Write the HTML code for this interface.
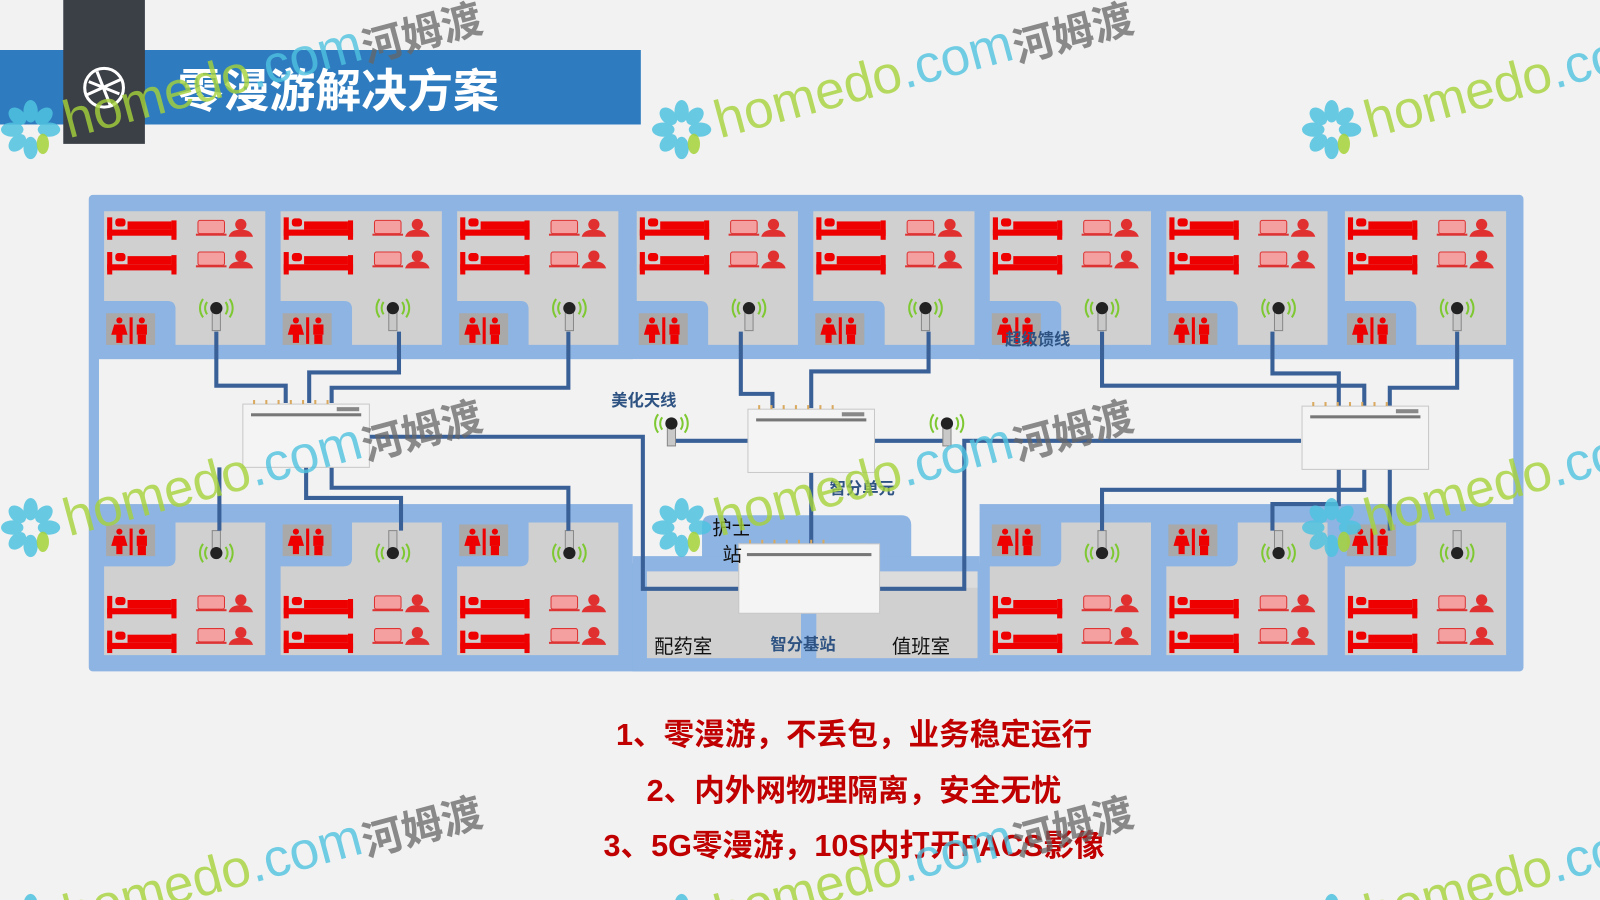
<!DOCTYPE html>
<html><head><meta charset="utf-8"><style>
html,body{margin:0;padding:0;background:#f2f2f2;overflow:hidden;width:1600px;height:900px}
svg{display:block;overflow:hidden}
text{font-family:"Liberation Sans","Noto Sans CJK SC",sans-serif}
</style></head><body>
<svg width="1600" height="900" viewBox="0 0 1568 882" xmlns="http://www.w3.org/2000/svg">
<defs>
<clipPath id="cp"><rect width="1568" height="882"/></clipPath>
<g id="bed"><rect x="0" y="0" width="5" height="22" fill="#e00"/><rect x="63" y="3" width="5" height="19" fill="#e00"/><rect x="0" y="12" width="68" height="6" fill="#e00"/><rect x="8" y="1" width="10" height="8" rx="3" fill="#e00"/><rect x="20" y="4" width="43" height="8" fill="#e00"/></g>
<g id="lap"><rect x="0" y="0" width="26" height="13" rx="2" fill="#f4a0a0" stroke="#d33" stroke-width="1"/><rect x="-2" y="13" width="30" height="2" fill="#d33"/><circle cx="42" cy="4" r="5.5" fill="#e03030"/><path d="M30,16 Q32,9 42,9 Q52,9 54,16 Z" fill="#e03030"/></g>
<g id="wc"><rect x="0" y="0" width="48" height="31" fill="#a9a9a9"/><circle cx="13" cy="7" r="3" fill="#e00"/><path d="M8,11 H18 L21,21 H16 V29 H10 V21 H5 Z" fill="#e00"/><rect x="23" y="4" width="3" height="26" fill="#e00"/><circle cx="35" cy="7" r="3" fill="#e00"/><rect x="30" y="11" width="10" height="10" fill="#e00"/><rect x="31" y="21" width="8" height="9" fill="#e00"/></g>
<g id="ant"><path d="M-9,-6 A10,10 0 0 0 -9,6 M-13,-9 A15,15 0 0 0 -13,9 M9,-6 A10,10 0 0 1 9,6 M13,-9 A15,15 0 0 1 13,9" stroke="#7ec832" stroke-width="2" fill="none"/><rect x="-4" y="0" width="8" height="22" fill="#c8c8c8" stroke="#888" stroke-width="1"/><circle cx="0" cy="0" r="6" fill="#222"/></g>
<g id="antd"><path d="M-9,-6 A10,10 0 0 0 -9,6 M-13,-9 A15,15 0 0 0 -13,9 M9,-6 A10,10 0 0 1 9,6 M13,-9 A15,15 0 0 1 13,9" stroke="#7ec832" stroke-width="2" fill="none"/><rect x="-4" y="-22" width="8" height="22" fill="#c8c8c8" stroke="#888" stroke-width="1"/><circle cx="0" cy="0" r="6" fill="#222"/></g>
<g id="topRoom"><path d="M0,0 H158 V131 H70 V96 Q70,88 62,88 H0 Z" fill="#d0d0d0"/><use href="#wc" x="2" y="100"/><use href="#bed" x="3" y="6"/><use href="#bed" x="3" y="40"/><use href="#lap" x="92" y="9"/><use href="#lap" x="92" y="40"/><use href="#ant" x="110" y="95"/></g>
<g id="botRoom"><path d="M0,130 H158 V0 H70 V35 Q70,43 62,43 H0 Z" fill="#d0d0d0"/><use href="#wc" x="2" y="2"/><use href="#bed" x="3" y="72"/><use href="#bed" x="3" y="106"/><use href="#lap" x="92" y="72"/><use href="#lap" x="92" y="104"/><use href="#antd" x="110" y="30"/></g>
<g id="router"><rect x="0" y="0" width="124" height="62" fill="#f4f4f4" stroke="#c8c8c8"/><rect x="8" y="9" width="108" height="3" fill="#777"/><rect x="92" y="3" width="22" height="4" fill="#888"/><g fill="#d9a960"><rect x="10" y="-4" width="2" height="4"/><rect x="22" y="-4" width="2" height="4"/><rect x="34" y="-4" width="2" height="4"/><rect x="46" y="-4" width="2" height="4"/><rect x="58" y="-4" width="2" height="4"/><rect x="70" y="-4" width="2" height="4"/><rect x="82" y="-4" width="2" height="4"/></g></g>
<g id="wm"><g fill="#4fc3e0" opacity="0.85"><ellipse cx="0" cy="-18" rx="7" ry="11"/><ellipse cx="0" cy="18" rx="7" ry="11"/><ellipse cx="-18" cy="0" rx="11" ry="7"/><ellipse cx="18" cy="0" rx="11" ry="7"/><ellipse cx="-13" cy="-13" rx="7" ry="10" transform="rotate(-45 -13 -13)"/><ellipse cx="13" cy="-13" rx="7" ry="10" transform="rotate(45 13 -13)"/><ellipse cx="-13" cy="13" rx="7" ry="10" transform="rotate(45 -13 13)"/></g><ellipse cx="12" cy="14" rx="6" ry="10" fill="#a6d33a" opacity="0.85"/><g transform="rotate(-15)"><text x="34" y="18" font-size="52" fill="#a6d33a" opacity="0.8">homedo<tspan fill="#4fc3e0">.com</tspan></text><text x="335" y="22" font-size="40" font-weight="bold" fill="#666" opacity="0.75">河姆渡</text></g></g>
</defs>
<g clip-path="url(#cp)">
<rect width="1568" height="882" fill="#f2f2f2"/>
<rect x="87" y="191" width="1406" height="467" rx="4" fill="#8db4e2"/>
<rect x="97" y="352" width="1386" height="142" fill="#f2f2f2"/>
<rect x="620" y="352" width="340" height="200" fill="#f2f2f2"/>
<path d="M688,570 V515 Q688,505 698,505 H883 Q893,505 893,515 V570 Z" fill="#8db4e2"/>
<rect x="620" y="545" width="340" height="113" fill="#8db4e2"/>
<rect x="634" y="560" width="151" height="85" fill="#d0d0d0"/>
<rect x="800" y="560" width="158" height="85" fill="#d0d0d0"/>
<rect x="634" y="560" width="324" height="16" fill="#dcdcdc"/>
<use href="#topRoom" x="102" y="207"/><use href="#topRoom" x="275" y="207"/><use href="#topRoom" x="448" y="207"/><use href="#topRoom" x="624" y="207"/>
<use href="#topRoom" x="797" y="207"/><use href="#topRoom" x="970" y="207"/><use href="#topRoom" x="1143" y="207"/><use href="#topRoom" x="1318" y="207"/>
<use href="#botRoom" x="102" y="512"/><use href="#botRoom" x="275" y="512"/><use href="#botRoom" x="448" y="512"/>
<use href="#botRoom" x="970" y="512"/><use href="#botRoom" x="1143" y="512"/><use href="#botRoom" x="1318" y="512"/>
<g stroke="#3a6098" stroke-width="4" fill="none">
<path d="M212,325 V378 H280 V395"/><path d="M391,325 V365 H303 V395"/><path d="M557,325 V380 H325 V395"/>
<path d="M726,325 V386 H757 V400"/><path d="M910,325 V364 H795 V400"/>
<path d="M1080,325 V378 H1337 V398"/><path d="M1247,325 V366 H1312 V398"/><path d="M1428,325 V380 H1362 V398"/>
<path d="M362,428 H630 V577 H725"/><path d="M658,432 H733"/><path d="M857,432 H928"/><path d="M1275,432 H945 V577 H862"/>
<path d="M795,463 V535"/>
<path d="M215,458 V520"/><path d="M300,458 V488 H393 V520"/><path d="M325,458 V478 H557 V520"/>
<path d="M1362,460 V520"/><path d="M1337,460 V480 H1080 V520"/><path d="M1312,460 V494 H1247 V520"/>
</g>
<use href="#ant" x="658" y="415"/><use href="#ant" x="928" y="415"/>
<use href="#router" x="238" y="396"/><use href="#router" x="733" y="401"/><use href="#router" x="1276" y="398"/>
<use href="#router" x="724" y="533"/>
<rect x="724" y="533" width="138" height="68" fill="#f4f4f4" stroke="#c8c8c8"/><rect x="732" y="542" width="122" height="3" fill="#777"/>
<g font-weight="bold" font-size="16" fill="#2e5382">
<text x="599" y="398">美化天线</text><text x="813" y="484">智分单元</text><text x="985" y="338">超级馈线</text><text x="755" y="637">智分基站</text></g>
<g font-size="19" fill="#111"><text x="698" y="524">护士</text><text x="708" y="550">站</text><text x="641" y="640">配药室</text><text x="874" y="640">值班室</text></g>
<rect x="0" y="49" width="628" height="73" fill="#2e7cbf"/>
<rect x="62" y="0" width="80" height="141" fill="#3b3f46"/>
<circle cx="102" cy="86" r="19" fill="none" stroke="#fff" stroke-width="3"/>
<path d="M87,80 L117,92 M95,70 L108,103 M85,93 L118,78" stroke="#fff" stroke-width="3"/>
<text x="174" y="105" font-size="45" font-weight="bold" fill="#fff">零漫游解决方案</text>
<g font-size="30" font-weight="bold" fill="#c00000" text-anchor="middle">
<text x="837" y="730">1、零漫游，不丢包，业务稳定运行</text>
<text x="837" y="785">2、内外网物理隔离，安全无忧</text>
<text x="837" y="839">3、5G零漫游，10S内打开PACS影像</text></g>
<use href="#wm" x="30" y="127"/><use href="#wm" x="668" y="127"/><use href="#wm" x="1305" y="127"/>
<use href="#wm" x="30" y="517"/><use href="#wm" x="668" y="517"/><use href="#wm" x="1305" y="517"/>
<use href="#wm" x="30" y="905"/><use href="#wm" x="668" y="905"/><use href="#wm" x="1305" y="905"/>
</g>
</svg>
</body></html>
